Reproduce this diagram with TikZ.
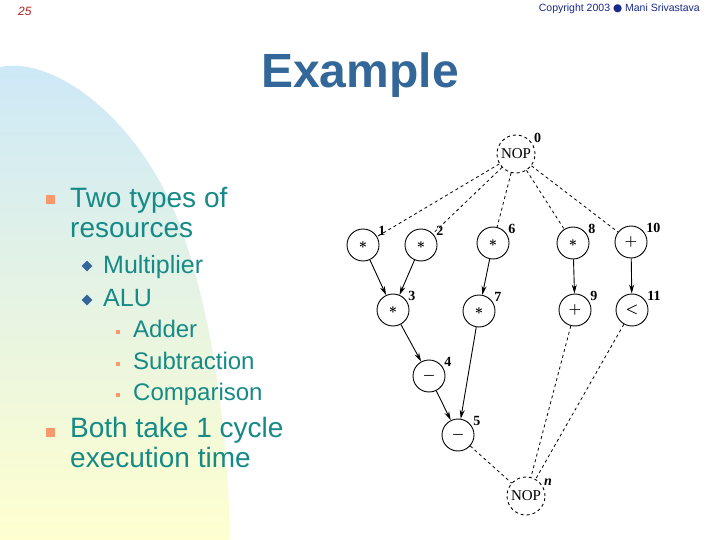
\documentclass[tikz,border=0pt]{standalone}
\usepackage{fontspec}
\setmainfont{Liberation Sans}
\newfontfamily\dagfont{Liberation Serif}
\newfontfamily\symfont{DejaVu Sans}
\usetikzlibrary{arrows.meta,positioning,calc,shapes.geometric}
\definecolor{titleblue}  {HTML}{336699}
\definecolor{bodyteal}   {HTML}{168A86}
\definecolor{bulletsalmon}{HTML}{F7996B}
\definecolor{pageblue}   {HTML}{CCE8F8}
\definecolor{pagegreen}  {HTML}{E2F3E8}
\definecolor{pageyellow} {HTML}{FFFFCF}
\definecolor{headred}    {HTML}{B22222}
\definecolor{headnavy}   {HTML}{1A2A8A}

\begin{document}
\begin{tikzpicture}[x=1pt,y=-1pt,
    opnode/.style={circle, draw, line width=0.9pt, minimum size=32pt, inner sep=0pt,
                   font=\boldmath\fontsize{15}{15}\selectfont},
    nopnode/.style={circle, draw, dashed, line width=0.9pt, minimum size=38pt, inner sep=0pt,
                    font=\dagfont\fontsize{15}{15}\selectfont},
    numlab/.style={font=\dagfont\bfseries\fontsize{14}{14}\selectfont, inner sep=1pt},
    flow/.style={-{Stealth[length=9pt,width=5pt]}, line width=0.9pt},
    ctrl/.style={dashed, line width=0.8pt},
    lvlone/.style={font=\fontsize{28}{30}\selectfont, text=bodyteal, align=left,
                   anchor=base west, inner sep=0pt},
    lvltwo/.style={font=\fontsize{25}{25}\selectfont, text=bodyteal, anchor=base west, inner sep=0pt},
    lvlthree/.style={font=\fontsize{24}{24}\selectfont, text=bodyteal, anchor=base west, inner sep=0pt},
    sqbullet/.style={fill=bulletsalmon, minimum size=9pt, inner sep=0pt},
    dmbullet/.style={diamond, fill=titleblue, minimum size=11pt, inner sep=0pt},
    dotbullet/.style={fill=bulletsalmon, minimum size=4pt, inner sep=0pt}]
  \useasboundingbox (0,0) rectangle (720,540);
  \fill[white] (0,0) rectangle (720,540);
  % background blob
  \shade[top color=pageblue, middle color=pagegreen, bottom color=pageyellow]
    (0,67) .. controls (60,55) and (150,130) .. (185,240)
           .. controls (215,330) and (228,440) .. (230,540) -- (0,540) -- cycle;

  % header
  \node[font=\itshape\fontsize{12}{12}\selectfont, text=headred, anchor=west, inner sep=0pt]
    (pagenum) at (18,11) {25};
  \node[font=\fontsize{10.5}{11}\selectfont, text=headnavy, anchor=east, inner sep=0pt]
    (copyr) at (700,9) {Copyright 2003 {\symfont\textcolor{headnavy}{●}} Mani Srivastava};
  \node[font=\bfseries\fontsize{48}{48}\selectfont, text=titleblue, anchor=base, inner sep=0pt]
    (title) at (360,88) {Example};

  % bullet text (base = last line)
  \node[sqbullet] (b1) at (50,200) {};
  \node[lvlone] (types) at (70,237) {Two types of\\resources};
  \node[dmbullet] (b2) at (87,266) {};
  \node[lvltwo] (mult) at (103,273) {Multiplier};
  \node[dmbullet] (b3) at (87,300) {};
  \node[lvltwo] (alu) at (103,306) {ALU};
  \foreach \i/\txt/\yb in {1/Adder/337, 2/Subtraction/369, 3/Comparison/400}{
    \node[dotbullet] (d\i) at (118,\yb-5) {};
    \node[lvlthree] (sub\i) at (133,\yb) {\txt};
  }
  \node[sqbullet] (b4) at (50,432) {};
  \node[lvlone] (cycle) at (70,467) {Both take 1 cycle\\execution time};

  % sequencing graph
  \node[nopnode, label={[numlab]30:0}] (v0) at (516,154) {NOP};
  \node[nopnode, label={[numlab]30:\textit{n}}] (vn) at (526,496) {NOP};
  \foreach \n/\x/\y/\op in {1/363/245/\ast, 2/421/245/\ast, 6/493/243/\ast,
                            8/573/243/\ast, 10/631/242/+, 3/393/310/\ast,
                            7/479/311/\ast, 9/575/310/+, 11/632/310/<,
                            4/429/376/-, 5/458/435/-}{
    \node[opnode, label={[numlab]30:\n}] (v\n) at (\x,\y) {$\op$};
  }
  \foreach \t in {1,2,6,8,10}
    \draw[ctrl] (v0) -- (v\t);
  \foreach \s/\t in {1/3, 2/3, 6/7, 8/9, 10/11, 3/4, 4/5, 7/5}
    \draw[flow] (v\s) -- (v\t);
  \foreach \s in {5,9,11}
    \draw[ctrl] (v\s) -- (vn);
\end{tikzpicture}
\end{document}
